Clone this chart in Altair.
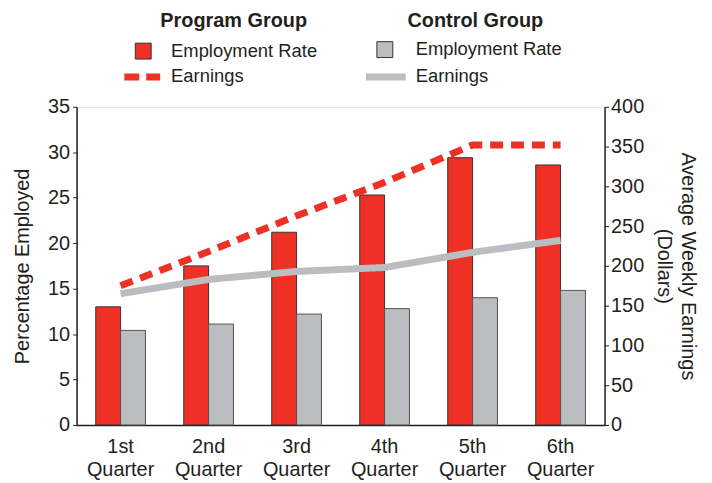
import altair as alt
import pandas as pd

quarters = ["1st Quarter", "2nd Quarter", "3rd Quarter", "4th Quarter", "5th Quarter", "6th Quarter"]
groups = ["Program Group", "Control Group"]
program_rate = [13.0, 17.5, 21.2, 25.3, 29.4, 28.6]
control_rate = [10.4, 11.1, 12.2, 12.8, 14.0, 14.8]
program_earn = [175, 218, 263, 305, 352, 352]
control_earn = [165, 183, 193, 198, 217, 232]

RED = "#EE3124"
GRAY = "#BCBDC0"
INK = "#231F20"
FONT = "Liberation Sans"
FS = 20

rows = []
for i, q in enumerate(quarters):
    rows.append({"quarter": q, "group": groups[0], "rate": program_rate[i], "earn": program_earn[i]})
    rows.append({"quarter": q, "group": groups[1], "rate": control_rate[i], "earn": control_earn[i]})
df = pd.DataFrame(rows)

xscale = alt.Scale(domain=quarters, paddingInner=0.435, paddingOuter=0.2175)
color_scale = alt.Scale(domain=groups, range=[RED, GRAY])

x_enc = alt.X("quarter:N", scale=xscale, sort=quarters, title=None,
              axis=alt.Axis(labelAngle=0, labelExpr="split(datum.label, ' ')",
                            ticks=False, labelFontSize=FS, labelLineHeight=23,
                            labelPadding=12, labelColor=INK, labelFont=FONT,
                            domainColor=INK, domainWidth=1.5))

bars = alt.Chart(df).mark_bar(strokeWidth=1).encode(
    x=x_enc,
    xOffset=alt.XOffset("group:N", sort=groups, scale=alt.Scale(domain=groups, paddingInner=0, paddingOuter=0)),
    y=alt.Y("rate:Q", scale=alt.Scale(domain=[0, 35], nice=False),
            title="Percentage Employed",
            axis=alt.Axis(values=[0, 5, 10, 15, 20, 25, 30, 35], grid=False,
                          labelFontSize=FS, titleFontSize=FS, titleFontWeight="normal",
                          labelColor=INK, titleColor=INK, tickColor=INK, domainColor=INK,
                          domainWidth=1.5, tickSize=4, labelPadding=3, titlePadding=15,
                          labelFont=FONT, titleFont=FONT)),
    color=alt.Color("group:N", scale=color_scale, legend=None),
    stroke=alt.Stroke("group:N", scale=alt.Scale(domain=groups, range=["#333333", "#555555"]), legend=None),
)

lines = alt.Chart(df).mark_line(strokeWidth=7, strokeCap="butt", strokeJoin="miter").encode(
    x=alt.X("quarter:N", scale=xscale, sort=quarters),
    y=alt.Y("earn:Q", scale=alt.Scale(domain=[0, 400], nice=False),
            title=["Average Weekly Earnings", "(Dollars)"],
            axis=alt.Axis(orient="right", values=[0, 50, 100, 150, 200, 250, 300, 350, 400],
                          grid=False, labelFontSize=FS, titleFontSize=FS,
                          titleFontWeight="normal", titleLineHeight=24,
                          labelColor=INK, titleColor=INK, tickColor=INK, domainColor=INK,
                          domainWidth=1.5, tickSize=4, labelPadding=2, titlePadding=10,
                          labelFont=FONT, titleFont=FONT)),
    color=alt.Color("group:N", scale=color_scale, legend=None),
    strokeDash=alt.StrokeDash("group:N", scale=alt.Scale(domain=groups, range=[[13, 8], [1, 0]]), legend=None),
    detail="group:N",
)

base = alt.Chart(pd.DataFrame({"a": [0]}))

def txt(s, x, y, bold=False, size=18.5, align="left"):
    return base.mark_text(text=s, align=align, baseline="alphabetic", fontSize=size,
                          fontWeight="bold" if bold else "normal", font=FONT,
                          color=INK).encode(x=alt.value(x), y=alt.value(y))

legend = [
    txt("Program Group", 158, -80, bold=True, size=20, align="center"),
    txt("Control Group", 401, -80, bold=True, size=20, align="center"),
    txt("Employment Rate", 95, -50),
    txt("Earnings", 95, -25),
    txt("Employment Rate", 341, -52),
    txt("Earnings", 341, -25),
    base.mark_square(size=256, fill=RED, stroke="#333333", strokeWidth=1, opacity=1).encode(
        x=alt.value(67), y=alt.value(-56)),
    base.mark_square(size=256, fill=GRAY, stroke="#333333", strokeWidth=1, opacity=1).encode(
        x=alt.value(310), y=alt.value(-57.5)),
    base.mark_rule(color=RED, strokeWidth=7, strokeDash=[15, 7]).encode(
        x=alt.value(48), x2=alt.value(84), y=alt.value(-30)),
    base.mark_rule(color=GRAY, strokeWidth=7).encode(
        x=alt.value(291), x2=alt.value(331), y=alt.value(-30)),
]

chart = alt.layer(bars, lines, *legend).resolve_scale(
    y="independent", color="independent", stroke="independent"
).properties(
    width=531, height=320,
    padding={"left": 69, "top": 98, "right": 100, "bottom": 55},
    autosize=alt.AutoSizeParams(type="none"),
).configure_view(stroke=None).configure(background="white")

chart.save("out.html", embed_options={"renderer": "svg", "actions": False})
